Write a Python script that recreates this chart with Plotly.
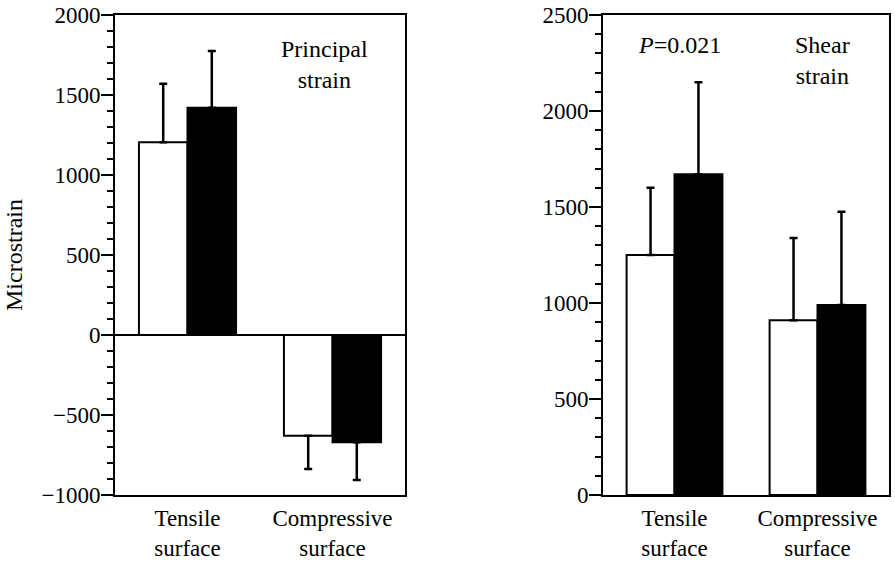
import plotly.graph_objects as go

categories = ["Tensile<br>surface", "Compressive<br>surface"]

# Principal strain (left panel)
principal_white = [1205, -630]
principal_white_err = [365, 207]
principal_black = [1420, -670]
principal_black_err = [355, 236]

# Shear strain (right panel)
shear_white = [1250, 910]
shear_white_err = [350, 428]
shear_black = [1670, 990]
shear_black_err = [480, 485]

FONT = "Liberation Serif, Times New Roman, serif"
FS = 23
FS_T = 24


def err(values, errs):
    plus = [e if v >= 0 else 0 for v, e in zip(values, errs)]
    minus = [e if v < 0 else 0 for v, e in zip(values, errs)]
    return dict(type="data", symmetric=False, array=plus, arrayminus=minus,
                color="black", thickness=2.5, width=4)


fig = go.Figure()

for vals, errs, color, xa, ya in [
    (principal_white, principal_white_err, "white", "x", "y"),
    (principal_black, principal_black_err, "black", "x", "y"),
    (shear_white, shear_white_err, "white", "x2", "y2"),
    (shear_black, shear_black_err, "black", "x2", "y2"),
]:
    fig.add_trace(go.Bar(
        x=categories, y=vals, xaxis=xa, yaxis=ya,
        marker=dict(color=color, line=dict(color="black", width=2)),
        error_y=err(vals, errs), showlegend=False,
    ))

W, H = 895, 562
ml, mr, mt, mb = 0, 0, 15, 67

xcommon = dict(showline=True, linewidth=2, linecolor="black", mirror=True,
               ticks="", showgrid=False, zeroline=False, ticklabelstandoff=1,
               automargin=False,
               tickfont=dict(family=FONT, size=FS, color="black"))
ycommon = dict(showline=True, linewidth=2, linecolor="black", mirror=True,
               ticks="outside", ticklen=12, tickwidth=2, tickcolor="black",
               showgrid=False, dtick=500, ticklabelstandoff=-4,
               automargin=False,
               minor=dict(dtick=100, ticks="outside", ticklen=6, tickwidth=2,
                          tickcolor="black", showgrid=False),
               tickfont=dict(family=FONT, size=FS, color="black"))

fig.update_layout(
    width=W, height=H,
    margin=dict(l=ml, r=mr, t=mt, b=mb),
    paper_bgcolor="white", plot_bgcolor="white",
    barmode="group", bargap=0.33, bargroupgap=0,
    font=dict(family=FONT, size=FS, color="black"),
    xaxis=dict(domain=[115 / W, 405 / W], anchor="y", **xcommon),
    yaxis=dict(domain=[0, 1], anchor="x", range=[-1000, 2000],
               zeroline=True, zerolinewidth=2, zerolinecolor="black", **ycommon),
    xaxis2=dict(domain=[603 / W, 889 / W], anchor="y2", **xcommon),
    yaxis2=dict(domain=[0, 1], anchor="x2", range=[0, 2500],
                zeroline=False, **ycommon),
)

fig.add_annotation(text="Microstrain", xref="paper", yref="paper",
                   x=14 / W, y=0.5, xanchor="center", yanchor="middle",
                   textangle=-90, showarrow=False,
                   font=dict(family=FONT, size=FS_T, color="black"))
fig.add_annotation(text="Principal<br>strain", xref="x domain", yref="y domain",
                   x=0.724, y=0.896, xanchor="center", yanchor="middle",
                   showarrow=False, font=dict(family=FONT, size=FS_T, color="black"))
fig.add_annotation(text="<i>P</i>=0.021", xref="x2 domain", yref="y2 domain",
                   x=0.266, y=0.937, xanchor="center", yanchor="middle",
                   showarrow=False, font=dict(family=FONT, size=FS_T, color="black"))
fig.add_annotation(text="Shear<br>strain", xref="x2 domain", yref="y2 domain",
                   x=0.766, y=0.906, xanchor="center", yanchor="middle",
                   showarrow=False, font=dict(family=FONT, size=FS_T, color="black"))

fig.write_html(
    "out.html",
    config={"displayModeBar": False},
    post_script="document.body.style.margin='0';document.body.style.overflow='hidden';",
)
